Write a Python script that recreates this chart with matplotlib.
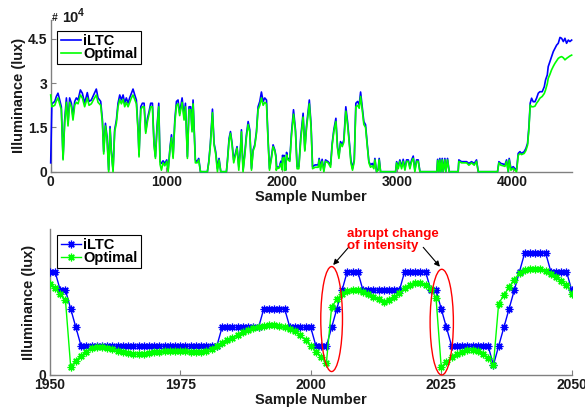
import matplotlib
matplotlib.use("Agg")
import matplotlib.pyplot as plt
from matplotlib.patches import Ellipse

plt.rcParams['font.family'] = ['Liberation Sans', 'DejaVu Sans']
plt.rcParams['font.weight'] = 'bold'

# ---------------- top panel data (values in units of 1e4 lux) ----------------
top_samples = [0, 10, 35, 49, 63, 78, 92, 107, 121, 136, 150, 164, 179, 193, 208, 222, 237, 257, 274, 294,
               317, 332, 352, 372, 395, 410, 433, 448, 459, 474, 488, 502, 514, 525, 540, 554, 569, 583, 598, 612,
               627, 641, 655, 670, 684, 699, 713, 728, 742, 757, 765, 780, 794, 809, 823, 838, 852, 866, 881, 895,
               907, 921, 936, 947, 959, 973, 988, 1005, 1017, 1034, 1046, 1060, 1075, 1089, 1103, 1117, 1138, 1155, 1167, 1184,
               1198, 1213, 1224, 1233, 1242, 1253, 1268, 1282, 1297, 1357, 1369, 1383, 1401, 1415, 1429, 1444, 1458, 1473, 1522, 1531,
               1545, 1557, 1571, 1585, 1600, 1614, 1629, 1643, 1652, 1666, 1681, 1695, 1710, 1724, 1739, 1753, 1767, 1782, 1796, 1811,
               1825, 1840, 1854, 1869, 1883, 1895, 1912, 1926, 1941, 1950, 1954, 1958, 1968, 1980, 1986, 1993, 2000, 2003, 2008, 2014,
               2020, 2025, 2031, 2035, 2043, 2050, 2056, 2071, 2085, 2103, 2120, 2134, 2149, 2166, 2186, 2201, 2215, 2240, 2255, 2268,
               2290, 2317, 2325, 2337, 2351, 2366, 2380, 2403, 2424, 2438, 2452, 2470, 2484, 2496, 2510, 2525, 2539, 2556, 2571, 2585,
               2600, 2614, 2629, 2643, 2658, 2672, 2684, 2698, 2712, 2727, 2741, 2756, 2770, 2785, 2799, 2808, 2822, 2837, 2845, 2857,
               2987, 2996, 3010, 3024, 3039, 3053, 3068, 3082, 3097, 3111, 3126, 3140, 3154, 3169, 3183, 3198, 3345, 3351, 3362, 3370,
               3379, 3391, 3399, 3414, 3422, 3437, 3451, 3529, 3535, 3558, 3602, 3622, 3645, 3668, 3688, 3703, 3870, 3882, 3899, 3919,
               3934, 3948, 3963, 3971, 3986, 4006, 4020, 4035, 4049, 4064, 4078, 4101, 4116, 4130, 4142, 4153, 4165, 4179, 4194, 4208,
               4223, 4237, 4257, 4275, 4286, 4301, 4309, 4324, 4338, 4353, 4367, 4382, 4396, 4411, 4425, 4440, 4454, 4468, 4483, 4497,
               4512]
top_iltc = [0.30, 2.30, 2.38, 2.55, 2.66, 2.43, 2.20, 0.45, 1.75, 2.50, 1.64, 2.50, 2.32, 1.87, 2.38, 2.50, 2.43, 2.77, 2.66, 2.32,
            2.68, 2.38, 2.43, 2.60, 2.80, 2.50, 2.38, 1.75, 0.68, 1.64, 1.19, 0.06, 1.53, 0.74, 0.06, 1.42, 1.75, 2.32, 2.60, 2.43,
            2.60, 2.32, 2.50, 2.32, 2.50, 2.66, 2.80, 2.60, 2.43, 1.42, 0.57, 2.20, 2.32, 2.32, 1.36, 1.81, 2.04, 2.32, 2.32, 0.96,
            0.51, 1.53, 2.32, 0.34, 0.28, 0.37, 0.28, 0.40, 0.06, 0.85, 1.25, 0.51, 1.75, 2.38, 2.43, 1.98, 2.50, 1.87, 2.32, 0.51,
            2.20, 2.20, 1.42, 2.43, 1.53, 0.40, 0.34, 0.45, 0.00, 0.00, 0.34, 0.96, 2.12, 0.96, 0.68, 0.11, 0.45, 0.00, 0.00, 0.40,
            1.13, 1.36, 0.96, 0.40, 0.62, 0.85, 0.17, 0.74, 1.42, 0.06, 0.62, 1.25, 1.70, 1.42, 0.11, 0.74, 0.91, 1.36, 2.20, 2.38,
            2.70, 2.38, 2.50, 2.43, 1.08, 0.11, 0.51, 0.91, 0.74, 0.55, 0.355, 0.155, 0.155, 0.155, 0.255, 0.355, 0.255, 0.155, 0.555, 0.455,
            0.555, 0.355, 0.155, 0.05, 0.655, 0.455, 0.45, 0.40, 1.30, 2.10, 1.42, 0.17, 0.17, 1.19, 1.98, 0.74, 1.53, 2.43, 1.60, 0.17,
            0.23, 0.23, 0.45, 0.17, 0.42, 0.06, 0.40, 0.34, 0.23, 0.96, 1.42, 1.81, 0.85, 0.51, 1.02, 0.91, 1.08, 2.20, 1.70, 1.08,
            0.40, 0.11, 0.40, 2.32, 2.38, 2.27, 2.70, 2.20, 1.70, 1.59, 0.96, 0.34, 0.23, 0.28, 0.17, 0.45, 0.00, 0.11, 0.45, 0.00,
            0.00, 0.34, 0.17, 0.40, 0.17, 0.42, 0.11, 0.40, 0.40, 0.17, 0.40, 0.53, 0.06, 0.40, 0.40, 0.00, 0.00, 0.42, 0.00, 0.45,
            0.00, 0.45, 0.00, 0.45, 0.00, 0.45, 0.00, 0.00, 0.40, 0.34, 0.34, 0.28, 0.34, 0.28, 0.40, 0.00, 0.00, 0.34, 0.28, 0.26,
            0.23, 0.40, 0.00, 0.45, 0.11, 0.17, 0.11, 0.06, 0.62, 0.68, 0.62, 0.68, 0.79, 0.96, 1.53, 2.32, 2.49, 2.37, 2.37, 2.49,
            2.66, 2.71, 2.71, 2.88, 3.11, 3.28, 3.56, 3.73, 3.90, 4.07, 4.18, 4.29, 4.35, 4.55, 4.52, 4.41, 4.52, 4.35, 4.46, 4.41,
            4.46]
top_optimal = [2.60, 2.20, 2.25, 2.40, 2.50, 2.30, 2.10, 0.40, 1.65, 2.35, 1.55, 2.35, 2.20, 1.75, 2.25, 2.35, 2.30, 2.60, 2.50, 2.20,
               2.50, 2.25, 2.30, 2.45, 2.60, 2.35, 2.25, 1.65, 0.60, 1.55, 1.10, 0.00, 1.45, 0.65, 0.00, 1.35, 1.65, 2.20, 2.45, 2.30,
               2.45, 2.20, 2.35, 2.20, 2.35, 2.50, 2.60, 2.45, 2.30, 1.35, 0.50, 2.10, 2.20, 2.20, 1.30, 1.70, 1.95, 2.20, 2.20, 0.90,
               0.45, 1.45, 2.20, 0.25, 0.05, 0.30, 0.20, 0.35, 0.00, 0.80, 1.15, 0.45, 1.65, 2.25, 2.30, 1.90, 2.35, 1.75, 2.20, 0.45,
               2.10, 2.10, 1.35, 2.30, 1.45, 0.30, 0.30, 0.40, 0.00, 0.00, 0.30, 0.90, 2.00, 0.90, 0.60, 0.00, 0.40, 0.00, 0.00, 0.35,
               1.05, 1.30, 0.90, 0.30, 0.55, 0.80, 0.05, 0.70, 1.35, 0.00, 0.55, 1.15, 1.60, 1.35, 0.05, 0.70, 0.85, 1.30, 2.10, 2.25,
               2.50, 2.25, 2.35, 2.30, 1.00, 0.05, 0.45, 0.85, 0.70, 0.49, 0.045, 0.14, 0.11, 0.13, 0.22, 0.27, 0.155, 0.066, 0.46, 0.39,
               0.49, 0.04, 0.13, 0.05, 0.57, 0.44, 0.40, 0.35, 1.20, 1.95, 1.35, 0.10, 0.10, 1.10, 1.85, 0.70, 1.45, 2.30, 1.50, 0.10,
               0.15, 0.15, 0.40, 0.05, 0.35, 0.00, 0.35, 0.30, 0.15, 0.90, 1.35, 1.70, 0.80, 0.45, 0.95, 0.85, 1.00, 2.05, 1.60, 1.00,
               0.30, 0.05, 0.35, 2.20, 2.25, 2.15, 2.55, 2.10, 1.60, 1.50, 0.90, 0.30, 0.15, 0.20, 0.10, 0.40, 0.00, 0.05, 0.40, 0.00,
               0.00, 0.30, 0.10, 0.35, 0.10, 0.35, 0.05, 0.35, 0.35, 0.10, 0.35, 0.45, 0.00, 0.35, 0.35, 0.00, 0.00, 0.38, 0.00, 0.40,
               0.00, 0.40, 0.00, 0.40, 0.00, 0.40, 0.00, 0.00, 0.35, 0.30, 0.30, 0.22, 0.30, 0.22, 0.35, 0.00, 0.00, 0.30, 0.22, 0.20,
               0.18, 0.35, 0.00, 0.40, 0.05, 0.12, 0.05, 0.00, 0.55, 0.62, 0.58, 0.62, 0.72, 0.90, 1.45, 2.26, 2.20, 2.20, 2.22, 2.32,
               2.40, 2.49, 2.55, 2.65, 2.77, 2.98, 3.16, 3.30, 3.45, 3.57, 3.67, 3.76, 3.84, 3.88, 3.90, 3.86, 3.79, 3.84, 3.88, 3.92,
               3.95]
top_xticks = [0, 1000, 2000, 3000, 4000]
top_yticks = [0, 1.5, 3, 4.5]
top_yticklabels = ['0', '1.5', '3', '4.5']

# ---------------- bottom panel data (lux) ----------------
bot_samples = list(range(1950, 2051))
bot_iltc = ([5550, 5550, 4550, 4550, 3550, 2550] + [1550] * 27 + [2550] * 8 + [3550] * 5 + [2550] * 5 +
            [1550] * 3 + [2550, 3550, 4550] + [5550] * 3 + [4550] * 8 + [5550] * 5 + [4550, 4550, 3550, 2550] +
            [1550] * 8 + [530, 1550, 2550, 3550, 4550, 5550] + [6550] * 5 + [5550] * 4 + [4550])
bot_optimal = [4900, 4640, 4330, 4010, 450, 770, 1030, 1250, 1430, 1510,
               1510, 1460, 1390, 1300, 1210, 1160, 1120, 1120, 1140, 1190,
               1220, 1250, 1270, 1270, 1270, 1270, 1270, 1260, 1250, 1260,
               1290, 1390, 1550, 1690, 1870, 2010, 2160, 2280, 2410, 2500,
               2580, 2640, 2670, 2660, 2620, 2570, 2480, 2350, 2140, 1870,
               1550, 1250, 980, 660, 3650, 4050, 4370, 4510, 4580, 4550,
               4450, 4330, 4190, 4050, 3900, 4010, 4190, 4400, 4640, 4810,
               4940, 4940, 4810, 4600, 4150, 430, 710, 940, 1120, 1250,
               1340, 1340, 1280, 1120, 890, 530, 3830, 4280, 4720, 5120,
               5470, 5610, 5700, 5700, 5670, 5580, 5440, 5260, 5040, 4810,
               4370]
bot_xticks = [1950, 1975, 2000, 2025, 2050]

BLUE = '#0000FF'
GREEN = '#00FF00'
SPINE = '#808080'
TXT = '#1a1a1a'

W, H = 585, 412
fig = plt.figure(figsize=(W / 100, H / 100), dpi=100)

def fx(px):
    return px / W

def fy(py):
    return 1 - py / H

ax1 = fig.add_axes([fx(50.7), fy(171.7), fx(572) - fx(50.7), fy(20) - fy(171.7)])
ax2 = fig.add_axes([fx(49.8), fy(375), fx(571.7) - fx(49.8), fy(229) - fy(375)])

for ax in (ax1, ax2):
    for s in ('top', 'right'):
        ax.spines[s].set_visible(False)
    for s in ('left', 'bottom'):
        ax.spines[s].set_color(SPINE)
        ax.spines[s].set_linewidth(1.0)
    ax.tick_params(direction='in', length=3.5, width=0.8, color=SPINE,
                   labelsize=10, labelcolor=TXT, pad=2.5)

# top panel
ax1.plot(top_samples, top_iltc, color=BLUE, lw=1.2, label='iLTC', zorder=3, clip_on=False)
ax1.plot(top_samples, top_optimal, color=GREEN, lw=1.2, label='Optimal', zorder=4, clip_on=False)
ax1.set_xlim(0, 4515)
ax1.set_ylim(0, 5.14)
ax1.set_xticks(top_xticks)
ax1.set_xticklabels([str(t) for t in top_xticks], fontweight='bold')
ax1.set_yticks(top_yticks)
ax1.set_yticklabels(top_yticklabels, fontweight='bold')
ax1.set_xlabel('Sample Number', fontsize=10.5, fontweight='bold', labelpad=0.5, color=TXT)
ax1.set_ylabel('Illuminance (lux)', fontsize=10.5, fontweight='bold', color=TXT, labelpad=1.5)
leg1 = ax1.legend(loc='upper left', bbox_to_anchor=(0.0127, 0.9275), borderaxespad=0,
                  fontsize=10.5, handlelength=1.4, handletextpad=0.15, borderpad=0.22,
                  labelspacing=-0.08, fancybox=False, framealpha=1, edgecolor='black')
leg1.get_frame().set_linewidth(0.8)
for t in leg1.get_texts():
    t.set_fontweight('bold')

fig.text(fx(51.5), fy(21), '#', fontsize=7.5, fontweight='bold', color=TXT, va='baseline')
fig.text(fx(62.5), fy(22.5), '10', fontsize=10.5, fontweight='bold', color=TXT, va='baseline')
fig.text(fx(77.5), fy(15.5), '4', fontsize=7.5, fontweight='bold', color=TXT, va='baseline')

# bottom panel
mk = (8, 2, 0)
ax2.plot(bot_samples, bot_iltc, color=BLUE, lw=1.0, marker=mk, markersize=5.5,
         markeredgewidth=0.9, label='iLTC', zorder=3)
ax2.plot(bot_samples, bot_optimal, color=GREEN, lw=1.0, marker=mk, markersize=5.5,
         markeredgewidth=0.9, label='Optimal', zorder=4)
ax2.set_xlim(1950, 2050)
ax2.set_ylim(0, 7830)
ax2.set_xticks(bot_xticks)
ax2.set_xticklabels([str(t) for t in bot_xticks], fontweight='bold')
ax2.set_yticks([0])
ax2.set_yticklabels(['0'], fontweight='bold')
ax2.set_xlabel('Sample Number', fontsize=10.5, fontweight='bold', labelpad=0.5, color=TXT)
ax2.set_ylabel('Illuminance (lux)', fontsize=10.5, fontweight='bold', color=TXT, labelpad=1.5)
leg2 = ax2.legend(loc='upper left', bbox_to_anchor=(0.0144, 0.959), borderaxespad=0,
                  fontsize=10.5, handlelength=1.4, handletextpad=0.15, borderpad=0.22,
                  labelspacing=-0.08, fancybox=False, framealpha=1, edgecolor='black')
leg2.get_frame().set_linewidth(0.8)
for t in leg2.get_texts():
    t.set_fontweight('bold')

# annotation
ax2.add_patch(Ellipse((2004.0, 3000), 4.16, 5630, fill=False, edgecolor='red', lw=1.0, clip_on=False, zorder=5))
ax2.add_patch(Ellipse((2025.1, 2835), 4.46, 5670, fill=False, edgecolor='red', lw=1.0, clip_on=False, zorder=5))
ax2.text(2006.9, 7900, 'abrupt change\nof intensity', color='red', fontsize=9.6, fontweight='bold',
         ha='left', va='top', linespacing=1.0, zorder=6)
arrow_kw = dict(arrowstyle='-|>', color='black', lw=0.8, mutation_scale=8, shrinkA=0, shrinkB=0)
ax2.annotate('', xy=(2004.3, 5898), xytext=(2007.3, 6863), arrowprops=arrow_kw, annotation_clip=False)
ax2.annotate('', xy=(2024.75, 5807), xytext=(2021.55, 6847), arrowprops=arrow_kw, annotation_clip=False)

fig.savefig('out.png', dpi=100)
